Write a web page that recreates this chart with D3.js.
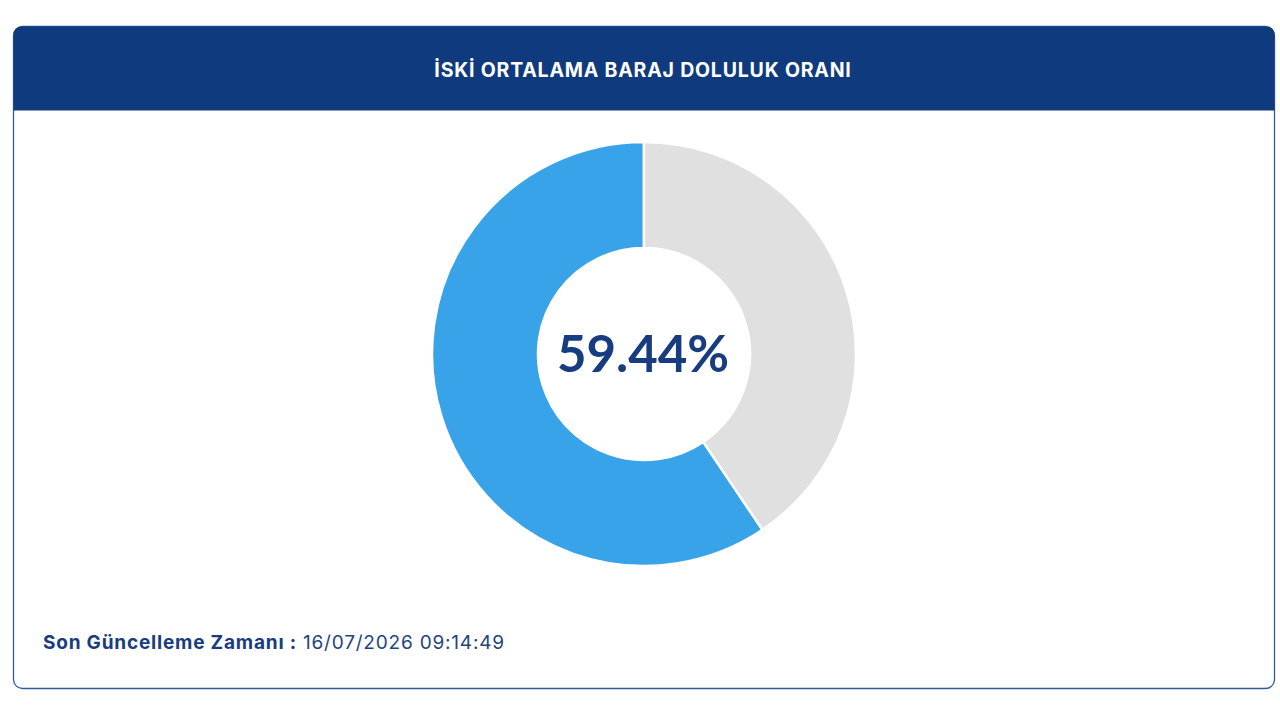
<!DOCTYPE html>
<html>
<head>
<meta charset="utf-8">
<script src="https://cdn.jsdelivr.net/npm/d3@7"></script>
<style>
  html, body { margin: 0; padding: 0; background: #fff; }
  svg { display: block; font-family: Inter, "Noto Sans", sans-serif; }
</style>
</head>
<body>
<svg id="chart" width="1280" height="720"></svg>
<script>
// Dam fill ratio (percent) and the empty share
const title = "İSKİ ORTALAMA BARAJ DOLULUK ORANI";
const sliceNames = ["Dolu", "Boş"];
const sliceValues = [59.44, 40.56];
const sliceColors = ["#38a3e8", "#e0e0e0"];
const updateLabel = "Son Güncelleme Zamanı :";
const updateTime = "16/07/2026 09:14:49";

const W = 1280, H = 720;
const card = { x: 13.5, y: 26.5, w: 1261, h: 662, r: 9, head: 84 };
const cx = 644, cy = 354, outerR = 212, innerR = 106;

const svg = d3.select("#chart");

// card: body with border, then header with rounded top corners
svg.append("rect")
  .attr("x", card.x).attr("y", card.y)
  .attr("width", card.w).attr("height", card.h)
  .attr("rx", card.r)
  .attr("fill", "#fff")
  .attr("stroke", "#2f5a9c")
  .attr("stroke-width", 1.3);

const hx = card.x, hy = card.y, hw = card.w, hh = card.head, r = card.r;
svg.append("path")
  .attr("d", `M${hx},${hy + hh} V${hy + r} Q${hx},${hy} ${hx + r},${hy} H${hx + hw - r} Q${hx + hw},${hy} ${hx + hw},${hy + r} V${hy + hh} Z`)
  .attr("fill", "#0f3a7e");

svg.append("text")
  .attr("x", W / 2 + 3).attr("y", 77)
  .attr("text-anchor", "middle")
  .attr("fill", "#fff")
  .attr("font-size", 19.5)
  .attr("font-weight", 700)
  .attr("letter-spacing", 0.8)
  .text(title);

// donut — blue share runs counter-clockwise from 12 o'clock
const pie = d3.pie().sort(null).startAngle(0).endAngle(-2 * Math.PI);
const arc = d3.arc().innerRadius(innerR).outerRadius(outerR);
const arcs = pie(sliceValues);

svg.append("g")
  .attr("transform", `translate(${cx},${cy})`)
  .selectAll("path")
  .data(arcs)
  .join("path")
  .attr("d", arc)
  .attr("fill", (d, i) => sliceColors[i])
  .attr("stroke", "#fff")
  .attr("stroke-width", 2.5)
  .append("title").text((d, i) => `${sliceNames[i]}: ${sliceValues[i]}%`);

svg.append("text")
  .attr("x", cx - 1).attr("y", cy + 18)
  .attr("text-anchor", "middle")
  .attr("fill", "#173c80")
  .attr("font-family", "Lato, sans-serif")
  .attr("font-size", 51)
  .attr("font-weight", 700)
  .text(`${sliceValues[0].toFixed(2)}%`);

// footer
const foot = svg.append("text")
  .attr("x", 43).attr("y", 649)
  .attr("font-size", 19)
  .attr("letter-spacing", 0.8)
  .attr("fill", "#173c80");
foot.append("tspan").attr("font-weight", 700).text(updateLabel);
foot.append("tspan").attr("font-weight", 400).attr("fill", "#24437f").text(" " + updateTime);
</script>
</body>
</html>
